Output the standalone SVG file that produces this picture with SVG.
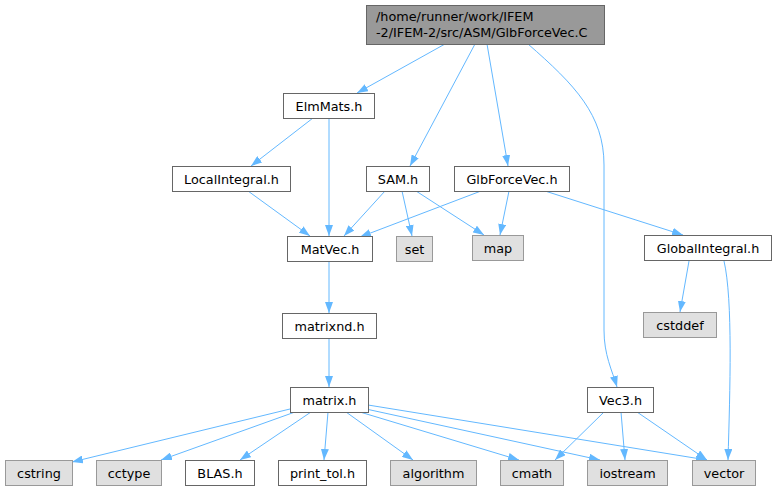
<svg xmlns="http://www.w3.org/2000/svg" width="777" height="491" viewBox="0 0 777 491">
<style>
.n rect{fill:#ffffff;stroke:#666666;stroke-width:1}
.g rect{fill:#e0e0e0;stroke:#999999;stroke-width:1}
.r rect{fill:#999999;stroke:#666666;stroke-width:1}
text{font-family:"DejaVu Sans",sans-serif;font-size:12.8px;fill:#000000}
.c text{text-anchor:middle}
#edges path{fill:none;stroke:#63b8ff;stroke-width:1;marker-end:url(#ah)}
</style>
<defs>
<marker id="ah" viewBox="0 0 11 8" refX="11" refY="4" markerWidth="11" markerHeight="8" markerUnits="userSpaceOnUse" orient="auto">
<path d="M0,0 L11,4 L0,8 z" fill="#63b8ff"/>
</marker>
</defs>
<rect width="777" height="491" fill="#ffffff"/>
<g id="edges">
<path d="M445,44 L357,93"/>
<path d="M475,44 L410,166"/>
<path d="M487,44 L508,166"/>
<path d="M528,44 C575,85 604,115 604,165 L604,330 C604,355 612,370 617,387"/>
<path d="M313,118 L251,166"/>
<path d="M329,118 L329,236"/>
<path d="M248,191 L310,236"/>
<path d="M385,191 L344,236"/>
<path d="M402,191 L412,236"/>
<path d="M416,191 L484,235"/>
<path d="M481,191 L360,237"/>
<path d="M509,191 L500,235"/>
<path d="M545,191 L683,235"/>
<path d="M689,261 L680,312"/>
<path d="M724,261 C733,300 730,390 728,460"/>
<path d="M329,262 L329,313"/>
<path d="M329,338 L329,387"/>
<path d="M290,409 L72,462"/>
<path d="M295,412 L161,460"/>
<path d="M311,412 L240,460"/>
<path d="M328,412 L324,460"/>
<path d="M346,412 L413,460"/>
<path d="M360,412 L519,460"/>
<path d="M366,409 L600,460"/>
<path d="M368,405 L707,460"/>
<path d="M604,412 L555,460"/>
<path d="M621,412 L625,460"/>
<path d="M637,412 L707,460"/>
</g>
<g id="root" class="r"><rect x="366.5" y="5.5" width="238" height="39"/><text x="376" y="21">/home/runner/work/IFEM</text><text x="376" y="37">-2/IFEM-2/src/ASM/GlbForceVec.C</text></g>
<g id="ElmMats" class="n c"><rect x="283.5" y="93.5" width="91" height="25"/><text x="329" y="110.5">ElmMats.h</text></g>
<g id="LocalIntegral" class="n c"><rect x="172.5" y="166.5" width="118" height="25"/><text x="231.5" y="183.5">LocalIntegral.h</text></g>
<g id="SAM" class="n c"><rect x="366.5" y="166.5" width="63" height="25"/><text x="398" y="183.5">SAM.h</text></g>
<g id="GlbForceVecH" class="n c"><rect x="454.5" y="166.5" width="115" height="25"/><text x="512" y="183.5">GlbForceVec.h</text></g>
<g id="MatVec" class="n c"><rect x="287.5" y="236.5" width="85" height="25"/><text x="330" y="253.5">MatVec.h</text></g>
<g id="set" class="g c"><rect x="396.5" y="236.5" width="36" height="25"/><text x="414.5" y="253.5">set</text></g>
<g id="map" class="g c"><rect x="472.5" y="235.5" width="51" height="25"/><text x="498" y="252.5">map</text></g>
<g id="GlobalIntegral" class="n c"><rect x="644.5" y="235.5" width="127" height="25"/><text x="708" y="252.5">GlobalIntegral.h</text></g>
<g id="cstddef" class="g c"><rect x="643.5" y="312.5" width="73" height="25"/><text x="680" y="329.5">cstddef</text></g>
<g id="matrixnd" class="n c"><rect x="282.5" y="313.5" width="94" height="25"/><text x="329.5" y="330.5">matrixnd.h</text></g>
<g id="matrix" class="n c"><rect x="290.5" y="387.5" width="78" height="25"/><text x="329.5" y="404.5">matrix.h</text></g>
<g id="Vec3" class="n c"><rect x="587.5" y="387.5" width="66" height="25"/><text x="620.5" y="404.5">Vec3.h</text></g>
<g id="cstring" class="g c"><rect x="5.5" y="460.5" width="67" height="25"/><text x="39" y="477.5">cstring</text></g>
<g id="cctype" class="g c"><rect x="96.5" y="460.5" width="65" height="25"/><text x="129" y="477.5">cctype</text></g>
<g id="BLAS" class="n c"><rect x="185.5" y="460.5" width="69" height="25"/><text x="220" y="477.5">BLAS.h</text></g>
<g id="print_tol" class="n c"><rect x="278.5" y="460.5" width="88" height="25"/><text x="322.5" y="477.5">print_tol.h</text></g>
<g id="algorithm" class="g c"><rect x="390.5" y="460.5" width="86" height="25"/><text x="433.5" y="477.5">algorithm</text></g>
<g id="cmath" class="g c"><rect x="500.5" y="460.5" width="63" height="25"/><text x="532" y="477.5">cmath</text></g>
<g id="iostream" class="g c"><rect x="587.5" y="460.5" width="80" height="25"/><text x="627.5" y="477.5">iostream</text></g>
<g id="vector" class="g c"><rect x="692.5" y="460.5" width="63" height="25"/><text x="724" y="477.5">vector</text></g>
</svg>
